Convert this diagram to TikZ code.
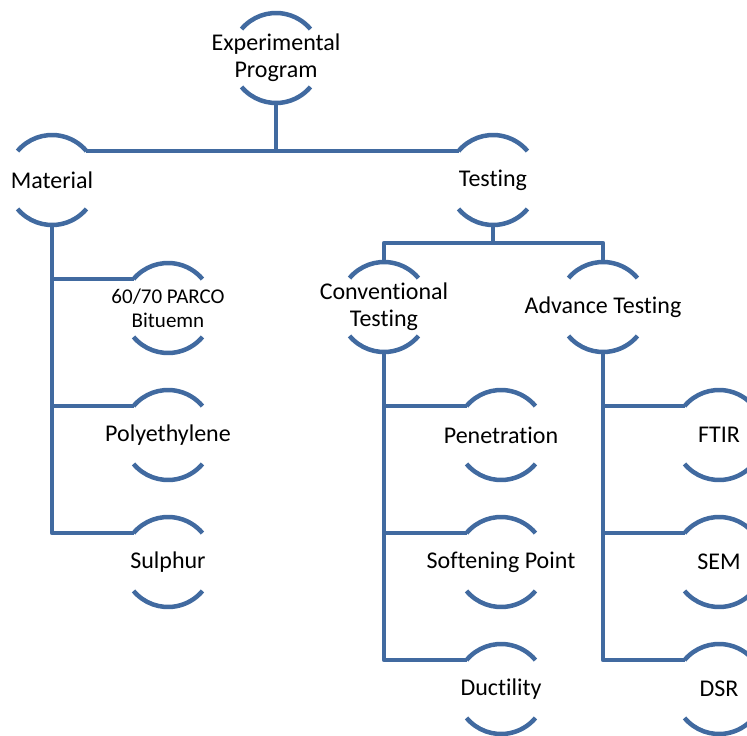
\documentclass[tikz,border=0pt]{standalone}
\usepackage{fontspec}
\setmainfont{Carlito}[Ligatures={NoCommon}]
\definecolor{archblue}{RGB}{65,106,160}

\begin{document}
\begin{tikzpicture}[x=1pt,y=1pt,
    arch/.style={archblue,line width=4.5pt},
    link/.style={archblue,line width=4.5pt,line join=round},
    lbl/.style={align=center,inner sep=0pt,font=\fontsize{24}{27}\selectfont},
    small/.style={align=center,inner sep=0pt,font=\fontsize{21}{24}\selectfont}]
  \useasboundingbox (0,0) rectangle (747,-736);
  \node [lbl] (exp) at (276,-58) {Experimental\\Program};
  \node [lbl] (mat) at (52,-180) {Material};
  \node [lbl] (test) at (493,-180) {Testing};
  \node [small] (bit) at (168,-308) {60/70 PARCO\\Bituemn};
  \node [lbl] (poly) at (168,-435) {Polyethylene};
  \node [lbl] (sul) at (168,-562) {Sulphur};
  \node [lbl] (conv) at (384,-307) {Conventional\\Testing};
  \node [lbl] (adv) at (603,-307) {Advance Testing};
  \node [lbl] (pen) at (501,-435) {Penetration};
  \node [lbl] (soft) at (501,-562) {Softening Point};
  \node [lbl] (duct) at (501,-689) {Ductility};
  \node [lbl] (ftir) at (719,-435) {FTIR};
  \node [lbl] (sem) at (719,-562) {SEM};
  \node [lbl] (dsr) at (719,-689) {DSR};
  \foreach \n in {exp,mat,test,bit,poly,sul,conv,adv,pen,soft,duct,ftir,sem,dsr} {
    \coordinate (\n-tl) at ([shift={(140:45pt)}]\n.center);
    \coordinate (\n-tr) at ([shift={(40:45pt)}]\n.center);
    \coordinate (\n-top) at ([shift={(90:45pt)}]\n.center);
    \coordinate (\n-bot) at ([shift={(270:45pt)}]\n.center);
    \draw [arch] (\n-tl) arc [start angle=140, end angle=40, radius=45pt];
    \draw [arch] ([shift={(220:45pt)}]\n.center) arc [start angle=220, end angle=320, radius=45pt];
  }
  \draw [link] (mat-tr) -- (test-tl);
  \draw [link] (exp-bot) -- (exp-bot |- mat-tr);
  \draw [link] (conv-top) -- ++(0,19) coordinate (fork) -| (adv-top);
  \draw [link] (test-bot) -- (test-bot |- fork);
  \foreach \c in {bit,poly,sul} \draw [link] (mat-bot) |- (\c-tl);
  \foreach \c in {pen,soft,duct} \draw [link] (conv-bot) |- (\c-tl);
  \foreach \c in {ftir,sem,dsr} \draw [link] (adv-bot) |- (\c-tl);
\end{tikzpicture}
\end{document}
